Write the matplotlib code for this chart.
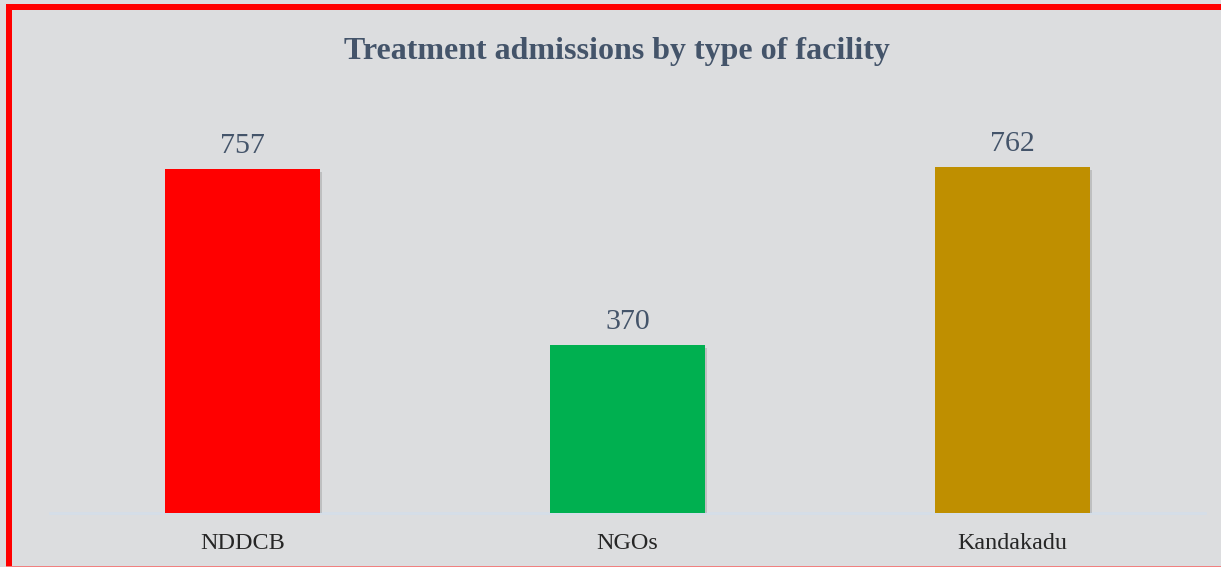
import matplotlib
matplotlib.use("Agg")
import matplotlib.pyplot as plt
from matplotlib.patches import Rectangle
import matplotlib.patheffects as pe

categories = ["NDDCB", "NGOs", "Kandakadu"]
values = [757, 370, 762]
colors = ["#FF0000", "#00B050", "#BF8F00"]
title = "Treatment admissions by type of facility"

W, H = 1221, 567
fig = plt.figure(figsize=(W / 100, H / 100), dpi=100)
bg = "#DCDDDF"
fig.patch.set_facecolor(bg)

# axes: x from 50 to 1205 px, baseline at y=513, top at y=100
ax_left, ax_right = 50, 1205
ax_bottom, ax_top = 513, 100
ax = fig.add_axes([ax_left / W, 1 - ax_bottom / H, (ax_right - ax_left) / W, (ax_bottom - ax_top) / H])
ax.set_facecolor(bg)
ymax = (ax_bottom - ax_top) / 0.454
ax.set_ylim(0, ymax)
ax.set_xlim(-0.5, len(categories) - 0.5)

x = list(range(len(categories)))
bars = ax.bar(x, values, width=0.402, color=colors, zorder=3,
              path_effects=[pe.SimplePatchShadow(offset=(1.5, -2), shadow_rgbFace="#888888", alpha=0.35), pe.Normal()])

for xi, v in zip(x, values):
    ax.annotate(f"{v}", (xi, v), xytext=(0, 7.5), textcoords="offset points",
                ha="center", va="bottom", fontsize=21.5, family="Liberation Serif",
                color="#44546A")

for s in ["top", "right", "left"]:
    ax.spines[s].set_visible(False)
ax.spines["bottom"].set_color("#D5DEE8")
ax.spines["bottom"].set_linewidth(2)
ax.set_yticks([])
ax.set_xticks(x)
ax.set_xticklabels(categories, fontsize=17.4, family="Liberation Serif", color="#262626")
ax.tick_params(axis="x", length=0, pad=14.5)

fig.text(617 / W, 1 - 51 / H, title, ha="center", va="center", fontsize=23,
         fontweight="bold", family="Liberation Serif", color="#44546A")

# red frame
fig.patches.append(Rectangle((6 / W, 0), 6 / W, 1 - 4 / H, transform=fig.transFigure,
                             facecolor="#FF0000", edgecolor="none", zorder=10))
fig.patches.append(Rectangle((6 / W, 1 - 10 / H), 1, 6 / H, transform=fig.transFigure,
                             facecolor="#FF0000", edgecolor="none", zorder=10))
fig.patches.append(Rectangle((6 / W, 0), 1, 1.2 / H, transform=fig.transFigure,
                             facecolor="#F08080", edgecolor="none", zorder=10))

fig.savefig("out.png", dpi=100, facecolor=bg)
